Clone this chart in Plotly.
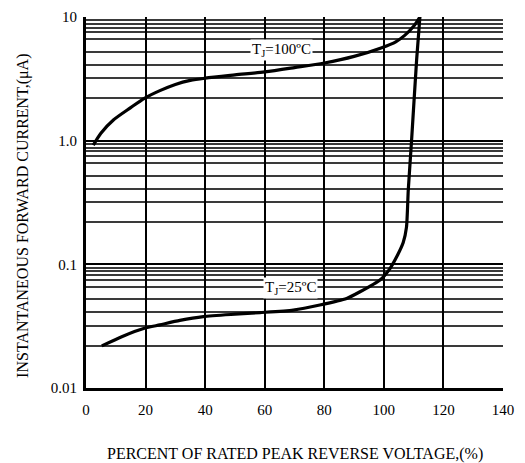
import numpy as np
import plotly.graph_objects as go

# 100 degC curve
x_100 = [2.45, 5, 9.2, 15, 19.6, 25, 30, 35, 40, 50, 60, 70, 80, 90, 99.3, 104, 107, 110, 112.1]
y_100 = [0.92, 1.15, 1.47, 1.85, 2.2, 2.55, 2.85, 3.07, 3.2, 3.4, 3.6, 3.9, 4.25, 4.8, 5.65, 6.3, 7.1, 8.4, 10]

# 25 degC curve
x_25 = [5.3, 12, 19.6, 24.8, 31.5, 39.4, 50, 58.4, 69.6, 78.5, 87.5, 92, 98.7, 102, 104.3, 106.5, 107.6, 108.2, 109.3, 111, 112.1]
y_25 = [0.0219, 0.026, 0.0304, 0.0324, 0.0352, 0.0378, 0.0395, 0.0407, 0.0427, 0.0469, 0.053, 0.060, 0.0746, 0.092, 0.115, 0.15, 0.2, 0.4, 1.0, 4.5, 10]

x_ticks = [0, 20, 40, 60, 80, 100, 120, 140]
y_ticks = [0.01, 0.1, 1, 10]
y_ticktext = ["0.01", "0.1", "1.0", "10"]
minor_mult = [2.2, 3.2, 4.1, 5.2, 6.6, 7.5, 8.2, 8.8, 9.4]
minor_vals = [d * m for d in [0.01, 0.1, 1] for m in minor_mult]

FONT = "Liberation Serif"

fig = go.Figure()
fig.add_trace(go.Scatter(x=x_100, y=y_100, mode="lines",
                         line=dict(color="black", width=3.2, shape="spline", smoothing=0.8),
                         showlegend=False))
fig.add_trace(go.Scatter(x=x_25, y=y_25, mode="lines",
                         line=dict(color="black", width=3.2, shape="spline", smoothing=0.6),
                         showlegend=False))

fig.add_annotation(x=65.8, y=np.log10(5.4), text="T<sub>J</sub>=100ºC", showarrow=False,
                   bgcolor="white", font=dict(family=FONT, size=15, color="black"), borderpad=1)
fig.add_annotation(x=68.5, y=np.log10(0.0646), text="T<sub>J</sub>=25ºC", showarrow=False,
                   bgcolor="white", font=dict(family=FONT, size=15, color="black"), borderpad=1)

fig.add_annotation(xref="paper", yref="paper", x=0.5, y=-0.178, yanchor="middle",
                   text="PERCENT OF RATED PEAK REVERSE VOLTAGE,(%)", showarrow=False,
                   font=dict(family=FONT, size=16, color="black"))
fig.add_annotation(xref="paper", yref="paper", x=-0.151, xanchor="center", y=0.464,
                   yanchor="middle",
                   text="INSTANTANEOUS FORWARD CURRENT,(μA)", showarrow=False, textangle=-90,
                   font=dict(family=FONT, size=16, color="black"))

fig.update_xaxes(range=[0, 140], tickvals=x_ticks, showgrid=True, gridcolor="black", gridwidth=1.5,
                 showline=True, linecolor="black", linewidth=3, zeroline=False, automargin=False,
                 ticks="outside", ticklen=6, tickcolor="rgba(0,0,0,0)",
                 tickfont=dict(family=FONT, size=15, color="black"))
fig.update_yaxes(type="log", range=[-2, 1], tickvals=y_ticks, ticktext=y_ticktext,
                 showgrid=True, gridcolor="black", gridwidth=1.5,
                 minor=dict(tickvals=minor_vals, showgrid=True, gridcolor="#3a3a3a", gridwidth=1.6),
                 showline=True, linecolor="black", linewidth=3, zeroline=False, automargin=False,
                 ticks="outside", ticklen=3, tickcolor="rgba(0,0,0,0)",
                 tickfont=dict(family=FONT, size=15, color="black"))

fig.update_layout(width=525, height=463, margin=dict(l=86, r=22, t=17, b=75, autoexpand=False),
                  plot_bgcolor="white", paper_bgcolor="white")

fig.write_html("out.html", config={"displayModeBar": False},
               post_script="document.body.style.margin='0';")
